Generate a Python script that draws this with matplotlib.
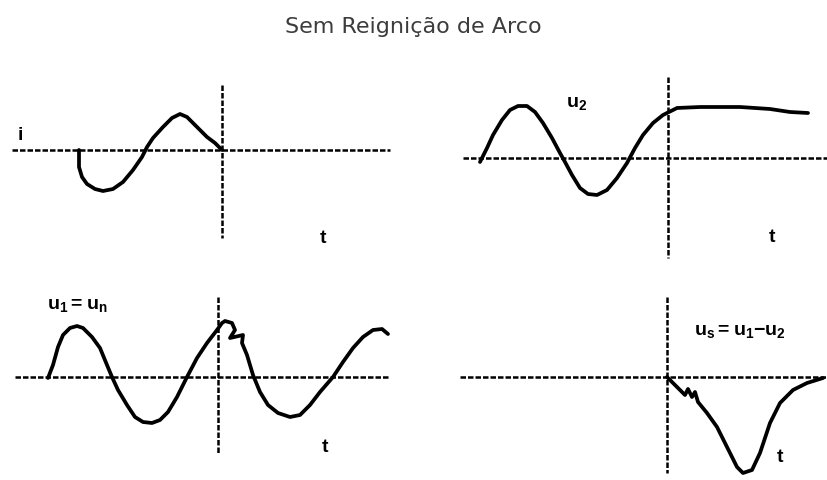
import matplotlib
matplotlib.use("Agg")
import matplotlib.pyplot as plt

plt.rcParams["mathtext.fontset"] = "custom"
plt.rcParams["mathtext.rm"] = "Liberation Sans"
plt.rcParams["mathtext.bf"] = "Liberation Sans:bold"

W, H = 827, 480
title = "Sem Reignição de Arco"

# traces: (time, value) pairs, zero at the switching instant / axis
i_t = [-143, -143, -140, -135, -127, -119, -109, -99, -89, -80, -75, -69, -59, -50,
       -42, -35, -25, -15, -7, 0]
i_v = [0, -17, -27, -34, -39, -41, -39, -32, -20, -7, 3, 12, 23, 32,
       36, 33, 23, 13, 7, 0]

u2_t = [-188, -181, -175, -166, -158, -150, -141, -133, -125, -116, -108, -103, -96,
        -88, -80, -71, -61, -51, -41, -33, -25, -15, -5, 1, 9, 32, 72, 102, 122, 140]
u2_v = [-4, 10, 23, 38, 48, 52, 52, 46, 35, 20, 5, -4, -17,
        -30, -36, -37, -32, -20, -5, 10, 23, 35, 43, 46, 50, 51, 51, 49, 46, 45]

u1_t = [-170, -165, -160, -155, -148, -141, -135, -126, -118, -111, -106, -100, -91,
        -83, -75, -66, -58, -50, -41, -31, -21, -11, -1, 4, 7, 14, 17, 12, 25, 24,
        29, 35, 42, 50, 60, 72, 82, 92, 102, 115, 125, 135, 145, 155, 164, 170]
u1_v = [-1, 12, 30, 42, 49, 51, 49, 40, 29, 12, 0, -13, -28,
        -40, -45, -46, -43, -35, -20, 0, 19, 34, 47, 54, 56, 54, 47, 39, 42, 34,
        22, 2, -15, -28, -36, -40, -38, -28, -15, 0, 15, 29, 40, 47, 48, 43]

us_t = [0, 6, 13, 18, 21, 25, 28, 31, 40, 50, 60, 70, 76, 85, 93, 103, 113, 126, 140, 156]
us_v = [0, -6, -13, -18, -12, -20, -15, -25, -36, -50, -70, -90, -96, -93, -76, -46, -26, -13, -6, -1]

fig = plt.figure(figsize=(W / 100, H / 100), dpi=100)
fig.patch.set_facecolor("white")
fig.text(0.5, 1 - 27 / H, title, ha="center", va="center", fontsize=16,
         family="DejaVu Sans", color="#3c3c3c")

LW = 2.7
AXKW = dict(color="black", lw=1.8, ls=(0, (2.2, 0.8)))
CURVE = dict(color="black", lw=LW, solid_capstyle="round", solid_joinstyle="round")


def panel(box, origin, hspan, vspan):
    left, top, right, bottom = box
    ox, oy = origin
    ax = fig.add_axes([left / W, 1 - bottom / H, (right - left) / W, (bottom - top) / H])
    ax.set_xlim(left - ox, right - ox)
    ax.set_ylim(oy - bottom, oy - top)
    ax.axis("off")
    ax.plot(hspan, [0, 0], **AXKW)
    ax.plot([0, 0], vspan, **AXKW)
    return ax


def label(ax, x, y, s, size=12):
    ax.text(x, y, s, ha="center", va="center", fontsize=size,
            family="Liberation Sans", weight="bold", color="black")


# current through the breaker
ax1 = panel((0, 80, 410, 250), (222, 150), [-210, 168], [65, -88])
ax1.plot(i_t, i_v, **CURVE)
label(ax1, -202, 15, "i", 14)
label(ax1, 101, -88, "t", 14)

# load-side voltage
ax2 = panel((440, 70, 827, 265), (668, 158), [-205, 159], [81, -100])
ax2.plot(u2_t, u2_v, **CURVE)
label(ax2, -91, 54, r"$\mathbf{u_2}$", 14)
label(ax2, 104, -79, "t", 14)

# source-side voltage
ax3 = panel((0, 285, 410, 480), (218, 377), [-203, 172], [80, -76])
ax3.plot(u1_t, u1_v, **CURVE)
label(ax3, -141, 71, r"$\mathbf{u_1{=}u_n}$", 14)
label(ax3, 107, -70, "t", 14)

# voltage across the contacts
ax4 = panel((440, 285, 827, 480), (667, 377), [-207, 160], [80, -96])
ax4.plot(us_t, us_v, **CURVE)
label(ax4, 73, 46, r"$\mathbf{u_s{=}u_1{-}u_2}$", 14)
label(ax4, 113, -80, "t", 14)

fig.savefig("out.png", dpi=100, facecolor="white")
